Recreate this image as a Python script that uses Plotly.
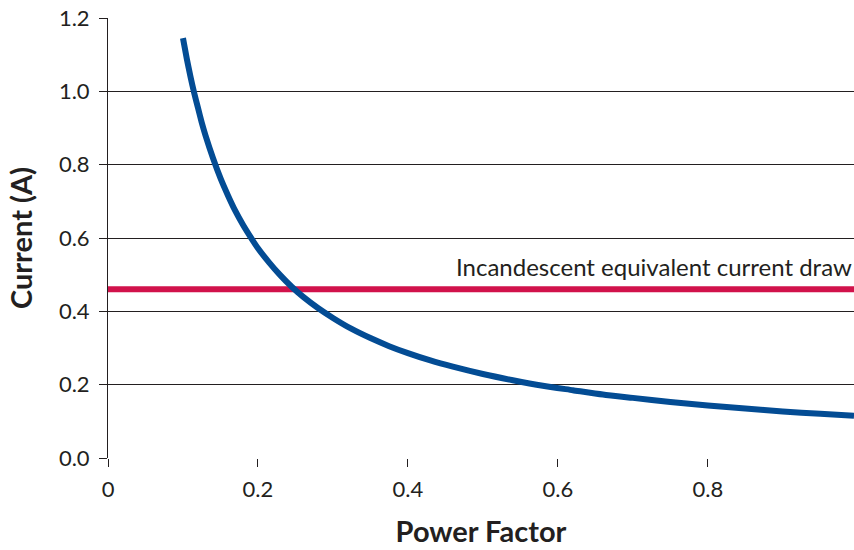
import plotly.graph_objects as go

# Values
power_factor = [0.100, 0.105, 0.110, 0.115, 0.120, 0.125, 0.130, 0.140, 0.150, 0.160,
                0.170, 0.180, 0.190, 0.200, 0.215, 0.230, 0.245, 0.260, 0.280, 0.300,
                0.325, 0.350, 0.375, 0.400, 0.430, 0.460, 0.500, 0.540, 0.580, 0.620,
                0.660, 0.700, 0.750, 0.800, 0.850, 0.900, 0.950, 0.995]
current = [1.145, 1.09, 1.04, 0.995, 0.955, 0.915, 0.88, 0.818, 0.763, 0.716,
           0.673, 0.636, 0.603, 0.572, 0.533, 0.498, 0.467, 0.440, 0.409, 0.382,
           0.352, 0.327, 0.305, 0.286, 0.266, 0.249, 0.229, 0.212, 0.197, 0.185,
           0.173, 0.164, 0.153, 0.143, 0.135, 0.127, 0.1205, 0.115]
incandescent_x = [0.0, 0.995]
incandescent_y = [0.46, 0.46]
incandescent_label = "Incandescent equivalent current draw"
x_ticks = [0, 0.2, 0.4, 0.6, 0.8]
x_tick_labels = ["0", "0.2", "0.4", "0.6", "0.8"]
y_ticks = [0.0, 0.2, 0.4, 0.6, 0.8, 1.0, 1.2]
y_tick_labels = ["0.0", "0.2", "0.4", "0.6", "0.8", "1.0", "1.2"]

FONT = "Lato, 'Open Sans', sans-serif"

fig = go.Figure()
fig.add_trace(go.Scatter(x=incandescent_x, y=incandescent_y, mode="lines",
                         line=dict(color="#D1124B", width=6), hoverinfo="skip",
                         showlegend=False))
fig.add_trace(go.Scatter(x=power_factor, y=current, mode="lines",
                         line=dict(color="#034C94", width=6, shape="spline", smoothing=0.6),
                         showlegend=False))

fig.add_annotation(x=1, xref="paper", y=0.522, yref="y", text=incandescent_label,
                   showarrow=False, xanchor="right", yanchor="middle",
                   font=dict(family=FONT, size=24, color="#231F20"))

fig.update_layout(
    width=854, height=550,
    margin=dict(l=108, r=0, t=18, b=92),
    plot_bgcolor="white", paper_bgcolor="white",
    font=dict(family=FONT, color="#231F20"),
    xaxis=dict(range=[0, 0.995], tickvals=x_ticks, ticktext=x_tick_labels,
               showgrid=False, zeroline=False, showline=False,
               ticks="outside", ticklen=8, tickcolor="#231F20", tickwidth=1,
               tickfont=dict(size=22), ticklabelstandoff=4,
               title=dict(text="<b>Power Factor</b>", font=dict(size=29), standoff=20)),
    yaxis=dict(range=[0, 1.2], tickvals=y_ticks, ticktext=y_tick_labels,
               showgrid=True, gridcolor="#231F20", gridwidth=1,
               zeroline=False, showline=True, linecolor="#231F20", linewidth=1,
               ticks="outside", ticklen=8, tickcolor="#231F20", tickwidth=1,
               tickfont=dict(size=22), ticklabelstandoff=5,
               title=dict(text="<b>Current (A)</b>", font=dict(size=29), standoff=17)),
)

fig.write_html("out.html", config={"displayModeBar": False},
               post_script="document.body.style.margin='0';")
